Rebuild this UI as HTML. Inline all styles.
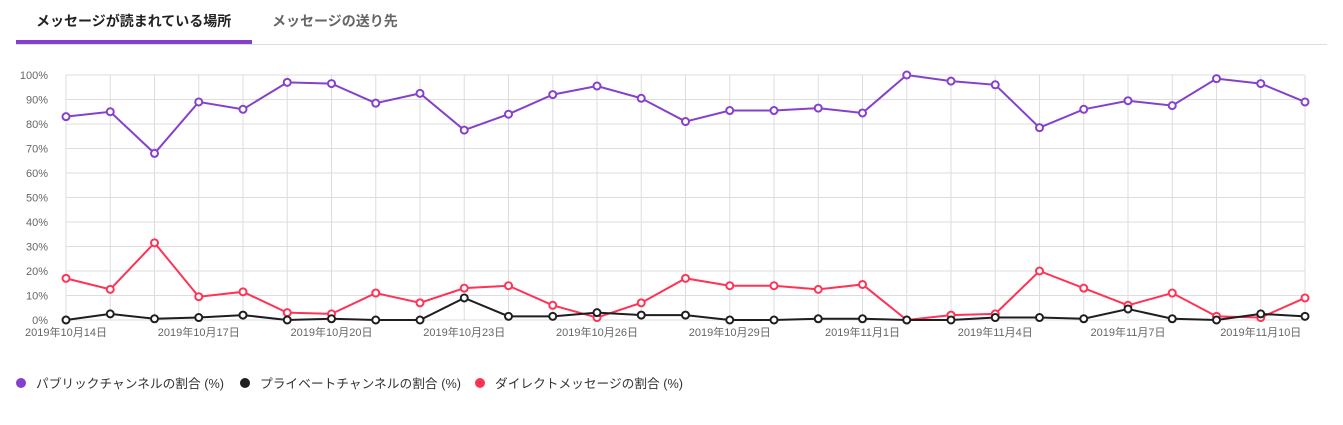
<!DOCTYPE html>
<html><head><meta charset="utf-8"><style>
body{margin:0;background:#fff;font-family:"Liberation Sans","Noto Sans CJK JP",sans-serif;}
svg text{font-family:"Liberation Sans","Noto Sans CJK JP",sans-serif;}
</style></head><body>
<svg id="c" width="1343" height="420" xmlns="http://www.w3.org/2000/svg">
<text x="36" y="26" font-size="14" font-weight="bold" fill="#222">メッセージが読まれている場所</text>
<text x="272" y="26" font-size="14" font-weight="bold" fill="#666">メッセージの送り先</text>
<rect x="16" y="44" width="1311" height="1" fill="#ddd"/>
<rect x="16" y="40" width="236" height="4" fill="#8540cc"/>
<g id="g"></g>
<circle cx="21" cy="383" r="5" fill="#8540cc"/><text x="36" y="388" font-size="12.7" fill="#333" textLength="188">パブリックチャンネルの割合 (%)</text>
<circle cx="245" cy="383" r="5" fill="#1e1e1e"/><text x="260" y="388" font-size="12.7" fill="#333" textLength="201">プライベートチャンネルの割合 (%)</text>
<circle cx="480" cy="383" r="5" fill="#ff3355"/><text x="495" y="388" font-size="12.7" fill="#333" textLength="188">ダイレクトメッセージの割合 (%)</text>
</svg>
<script>
var g=document.getElementById('g'),s='';
var x0=66,x1=1305,n=29,dx=(x1-x0)/28,Y=v=>320-v*2.45;
for(var i=0;i<=10;i++){s+='<line x1="'+x0+'" x2="'+x1+'" y1="'+Y(i*10)+'" y2="'+Y(i*10)+'" stroke="#ddd"/>';
s+='<text x="48" y="'+(Y(i*10)+4)+'" font-size="11" fill="#666" text-anchor="end">'+(i*10)+'%</text>';}
for(var i=0;i<n;i++){var x=x0+i*dx;s+='<line x1="'+x+'" x2="'+x+'" y1="75" y2="320" stroke="#ddd"/>';}
var labs=['2019年10月14日','2019年10月17日','2019年10月20日','2019年10月23日','2019年10月26日','2019年10月29日','2019年11月1日','2019年11月4日','2019年11月7日','2019年11月10日'];
labs.forEach((l,k)=>{s+='<text x="'+(x0+k*3*dx)+'" y="336" font-size="11" fill="#666" text-anchor="middle">'+l+'</text>';});
var P=[83,85,68,89,86,97,96.5,88.5,92.5,77.5,84,92,95.5,90.5,81,85.5,85.5,86.5,84.5,100,97.5,96,78.5,86,89.5,87.5,98.5,96.5,89];
var B=[0,2.5,0.5,1,2,0,0.5,0,0,9,1.5,1.5,3,2,2,0,0,0.5,0.5,0,0,1,1,0.5,4.5,0.5,0,2.5,1.5];
var R=[17,12.5,31.5,9.5,11.5,3,2.5,11,7,13,14,6,1,7,17,14,14,12.5,14.5,0,2,2.5,20,13,6,11,1.5,1,9];
[[R,'#ff3355'],[B,'#1e1e1e'],[P,'#8540cc']].forEach(function(a){var d=a[0],c=a[1];
s+='<polyline fill="none" stroke="'+c+'" stroke-width="2" points="'+d.map((v,i)=>(x0+i*dx)+','+Y(v)).join(' ')+'"/>';
d.forEach((v,i)=>{s+='<circle cx="'+(x0+i*dx)+'" cy="'+Y(v)+'" r="3.5" fill="#fff" stroke="'+c+'" stroke-width="2"/>';});});
g.innerHTML=s;
</script>
</body></html>
